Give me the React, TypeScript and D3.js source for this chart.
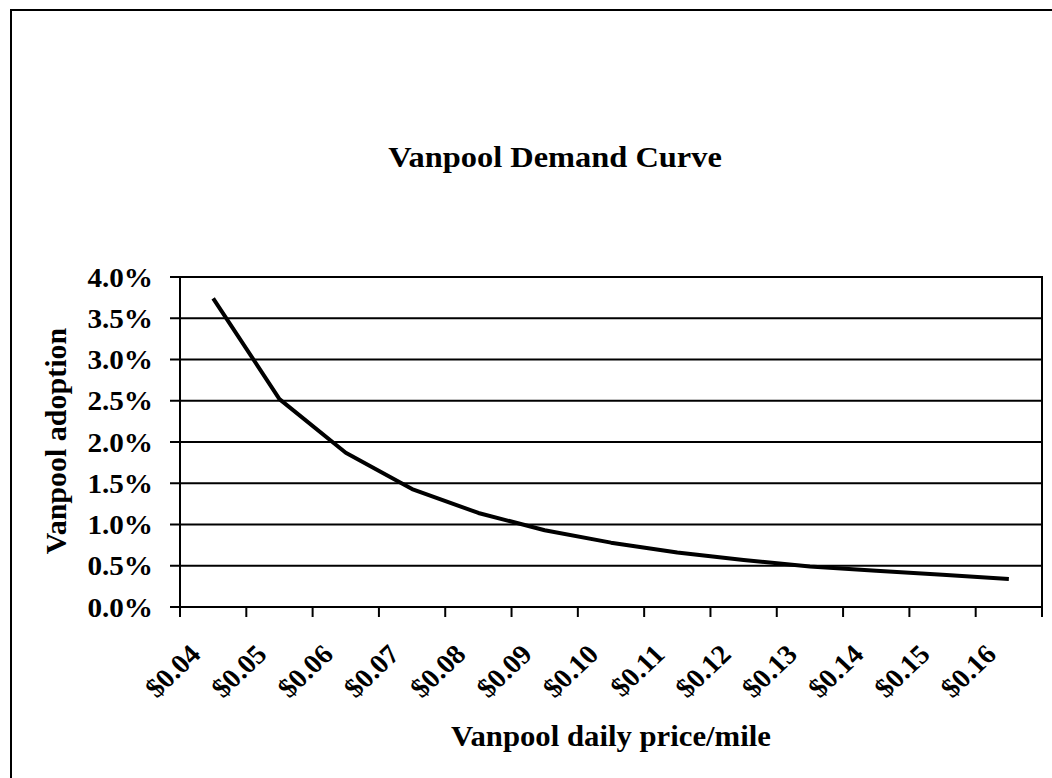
import React from "react";
import * as d3 from "d3";

const categories = ["$0.04","$0.05","$0.06","$0.07","$0.08","$0.09","$0.10","$0.11","$0.12","$0.13","$0.14","$0.15","$0.16"];
const adoption = [3.74, 2.52, 1.87, 1.43, 1.14, 0.93, 0.78, 0.66, 0.57, 0.49, 0.44, 0.39, 0.34];
const yTicks = [0, 0.5, 1.0, 1.5, 2.0, 2.5, 3.0, 3.5, 4.0];

const W = 1052, H = 778;
const plot = { left: 180, right: 1042, top: 277, bottom: 607 };
const FONT = "'Liberation Serif', 'Times New Roman', serif";

export default function App() {
  const x = d3.scaleBand<string>().domain(categories).range([plot.left, plot.right]).paddingInner(0).paddingOuter(0);
  const y = d3.scaleLinear().domain([0, 4]).range([plot.bottom, plot.top]);
  const pts: [number, number][] = categories.map((c, i) => [x(c)! + x.bandwidth() / 2, y(adoption[i])]);
  const line = d3.line()(pts) || "";
  const boundaries = categories.map((c) => x(c)!).concat([plot.right]);

  return (
    <svg width={W} height={H} style={{ position: "absolute", left: 0, top: 0, background: "#fff" }} fontFamily={FONT}>
      <rect x={0} y={0} width={W} height={H} fill="#fff" />
      <rect x={11} y={10} width={1200} height={1000} fill="none" stroke="#000" strokeWidth={2} />
      <text transform="translate(555,167) scale(1.08,1)" textAnchor="middle" fontSize={30} fontWeight="bold">Vanpool Demand Curve</text>

      {yTicks.map((t) => (
        <g key={t}>
          <line x1={plot.left - 10} x2={plot.right} y1={y(t)} y2={y(t)} stroke="#000" strokeWidth={2} />
          <text transform={`translate(153,${y(t) + 9.5}) scale(1.08,1)`} textAnchor="end" fontSize={27} fontWeight="bold">{t.toFixed(1) + "%"}</text>
        </g>
      ))}
      <rect x={plot.left} y={plot.top} width={plot.right - plot.left} height={plot.bottom - plot.top} fill="none" stroke="#000" strokeWidth={2} />
      {boundaries.map((b, i) => (
        <line key={i} x1={b} x2={b} y1={plot.bottom} y2={plot.bottom + 10} stroke="#000" strokeWidth={2} />
      ))}
      {categories.map((c) => (
        <text key={c} transform={`translate(${x(c)! + x.bandwidth() / 2 - 11},656) scale(1.06,1) rotate(-45)`} textAnchor="end" fontSize={27} fontWeight="bold">{c}</text>
      ))}
      <path d={line} fill="none" stroke="#000" strokeWidth={4} strokeLinejoin="round" />
      <text transform="translate(66,441) rotate(-90)" textAnchor="middle" fontSize={30} fontWeight="bold">Vanpool adoption</text>
      <text transform="translate(611,746) scale(1.06,1)" textAnchor="middle" fontSize={29} fontWeight="bold">Vanpool daily price/mile</text>
    </svg>
  );
}
